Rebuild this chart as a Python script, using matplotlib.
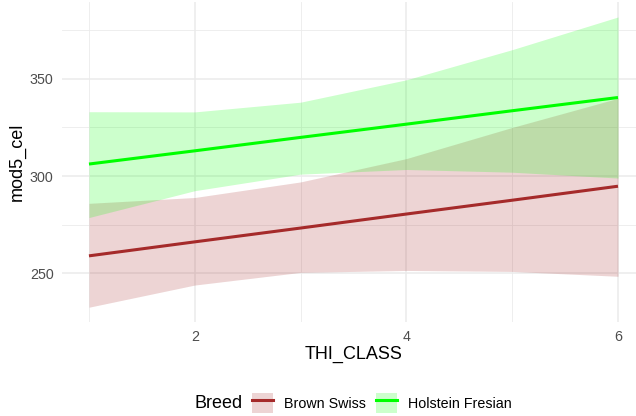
import matplotlib
matplotlib.use("Agg")
import matplotlib.pyplot as plt
from matplotlib.patches import Patch
from matplotlib.lines import Line2D
from matplotlib.legend_handler import HandlerTuple

plt.rcParams['font.family'] = ['Liberation Sans', 'DejaVu Sans']

# Fitted mod5_cel by THI class, with confidence bands
thi_class = [1, 2, 3, 4, 5, 6]

bs_fit = [259.0, 266.2, 273.3, 280.5, 287.6, 294.8]
bs_low = [232.6, 244.0, 250.5, 251.5, 251.0, 248.5]
bs_high = [286.0, 289.0, 297.0, 309.0, 325.0, 340.0]

hf_fit = [306.2, 313.0, 319.9, 326.7, 333.6, 340.4]
hf_low = [278.7, 292.5, 301.0, 303.4, 302.0, 299.0]
hf_high = [333.1, 333.0, 338.0, 349.5, 365.0, 381.8]

breeds = ["Brown Swiss", "Holstein Fresian"]
line_colors = ["#A52A2A", "#00FF00"]

x_ticks = [2, 4, 6]
x_minor = [1, 3, 5]
y_ticks = [250, 300, 350]
y_minor = [275, 325, 375]

W, H = 636, 416
fig = plt.figure(figsize=(W / 100, H / 100), dpi=100)
ax = fig.add_axes([62 / W, 1 - 322 / H, (W - 62) / W, 320 / H])

series = [(bs_fit, bs_low, bs_high), (hf_fit, hf_low, hf_high)]
handles = []
for (fit, lo, hi), col, name in zip(series, line_colors, breeds):
    ax.fill_between(thi_class, lo, hi, color=col, alpha=0.2, linewidth=0, zorder=2)
    ax.plot(thi_class, fit, color=col, lw=2.2, zorder=3, solid_capstyle='butt')
    handles.append((Patch(facecolor=col, alpha=0.2, edgecolor='none'),
                    Line2D([], [], color=col, lw=2.2)))

ax.set_xlim(0.745, 0.745 + (W - 62) / 105.8)
ax.set_ylim(225, 389.5)

ax.set_xticks(x_ticks)
ax.set_xticks(x_minor, minor=True)
ax.set_yticks(y_ticks)
ax.set_yticks(y_minor, minor=True)
ax.set_xticklabels([str(v) for v in x_ticks])
ax.set_yticklabels([str(v) for v in y_ticks])

ax.grid(which='major', color='#EBEBEB', lw=1.1)
ax.grid(which='minor', color='#EBEBEB', lw=0.6)
ax.set_axisbelow(True)
for s in ax.spines.values():
    s.set_visible(False)
ax.tick_params(which='both', length=0, labelsize=10.3, labelcolor='#4D4D4D')
ax.tick_params(axis='y', pad=6)
ax.tick_params(axis='x', pad=6)

ax.set_xlabel("THI_CLASS", fontsize=13)
ax.set_ylabel("mod5_cel", fontsize=13)
ax.xaxis.set_label_coords((354 - 62) / (W - 62), -32 / 320)
ax.xaxis.label.set_va('center')
ax.yaxis.set_label_coords(-44.5 / (W - 62), 0.5)
ax.yaxis.label.set_va('center')
ax.yaxis.label.set_ha('center')

fig.text(194 / W, 1 - 403 / H, "Breed", fontsize=13, ha='left', va='center')
fig.legend(handles, breeds, handler_map={tuple: HandlerTuple(ndivide=1, pad=0)},
           loc='center', bbox_to_anchor=(382 / W, 1 - 403 / H), ncol=2,
           frameon=False, fontsize=10.3, handlelength=1.44, handleheight=1.84,
           handletextpad=0.8, columnspacing=0.72, borderpad=0, borderaxespad=0)

fig.savefig("out.png", dpi=100)
